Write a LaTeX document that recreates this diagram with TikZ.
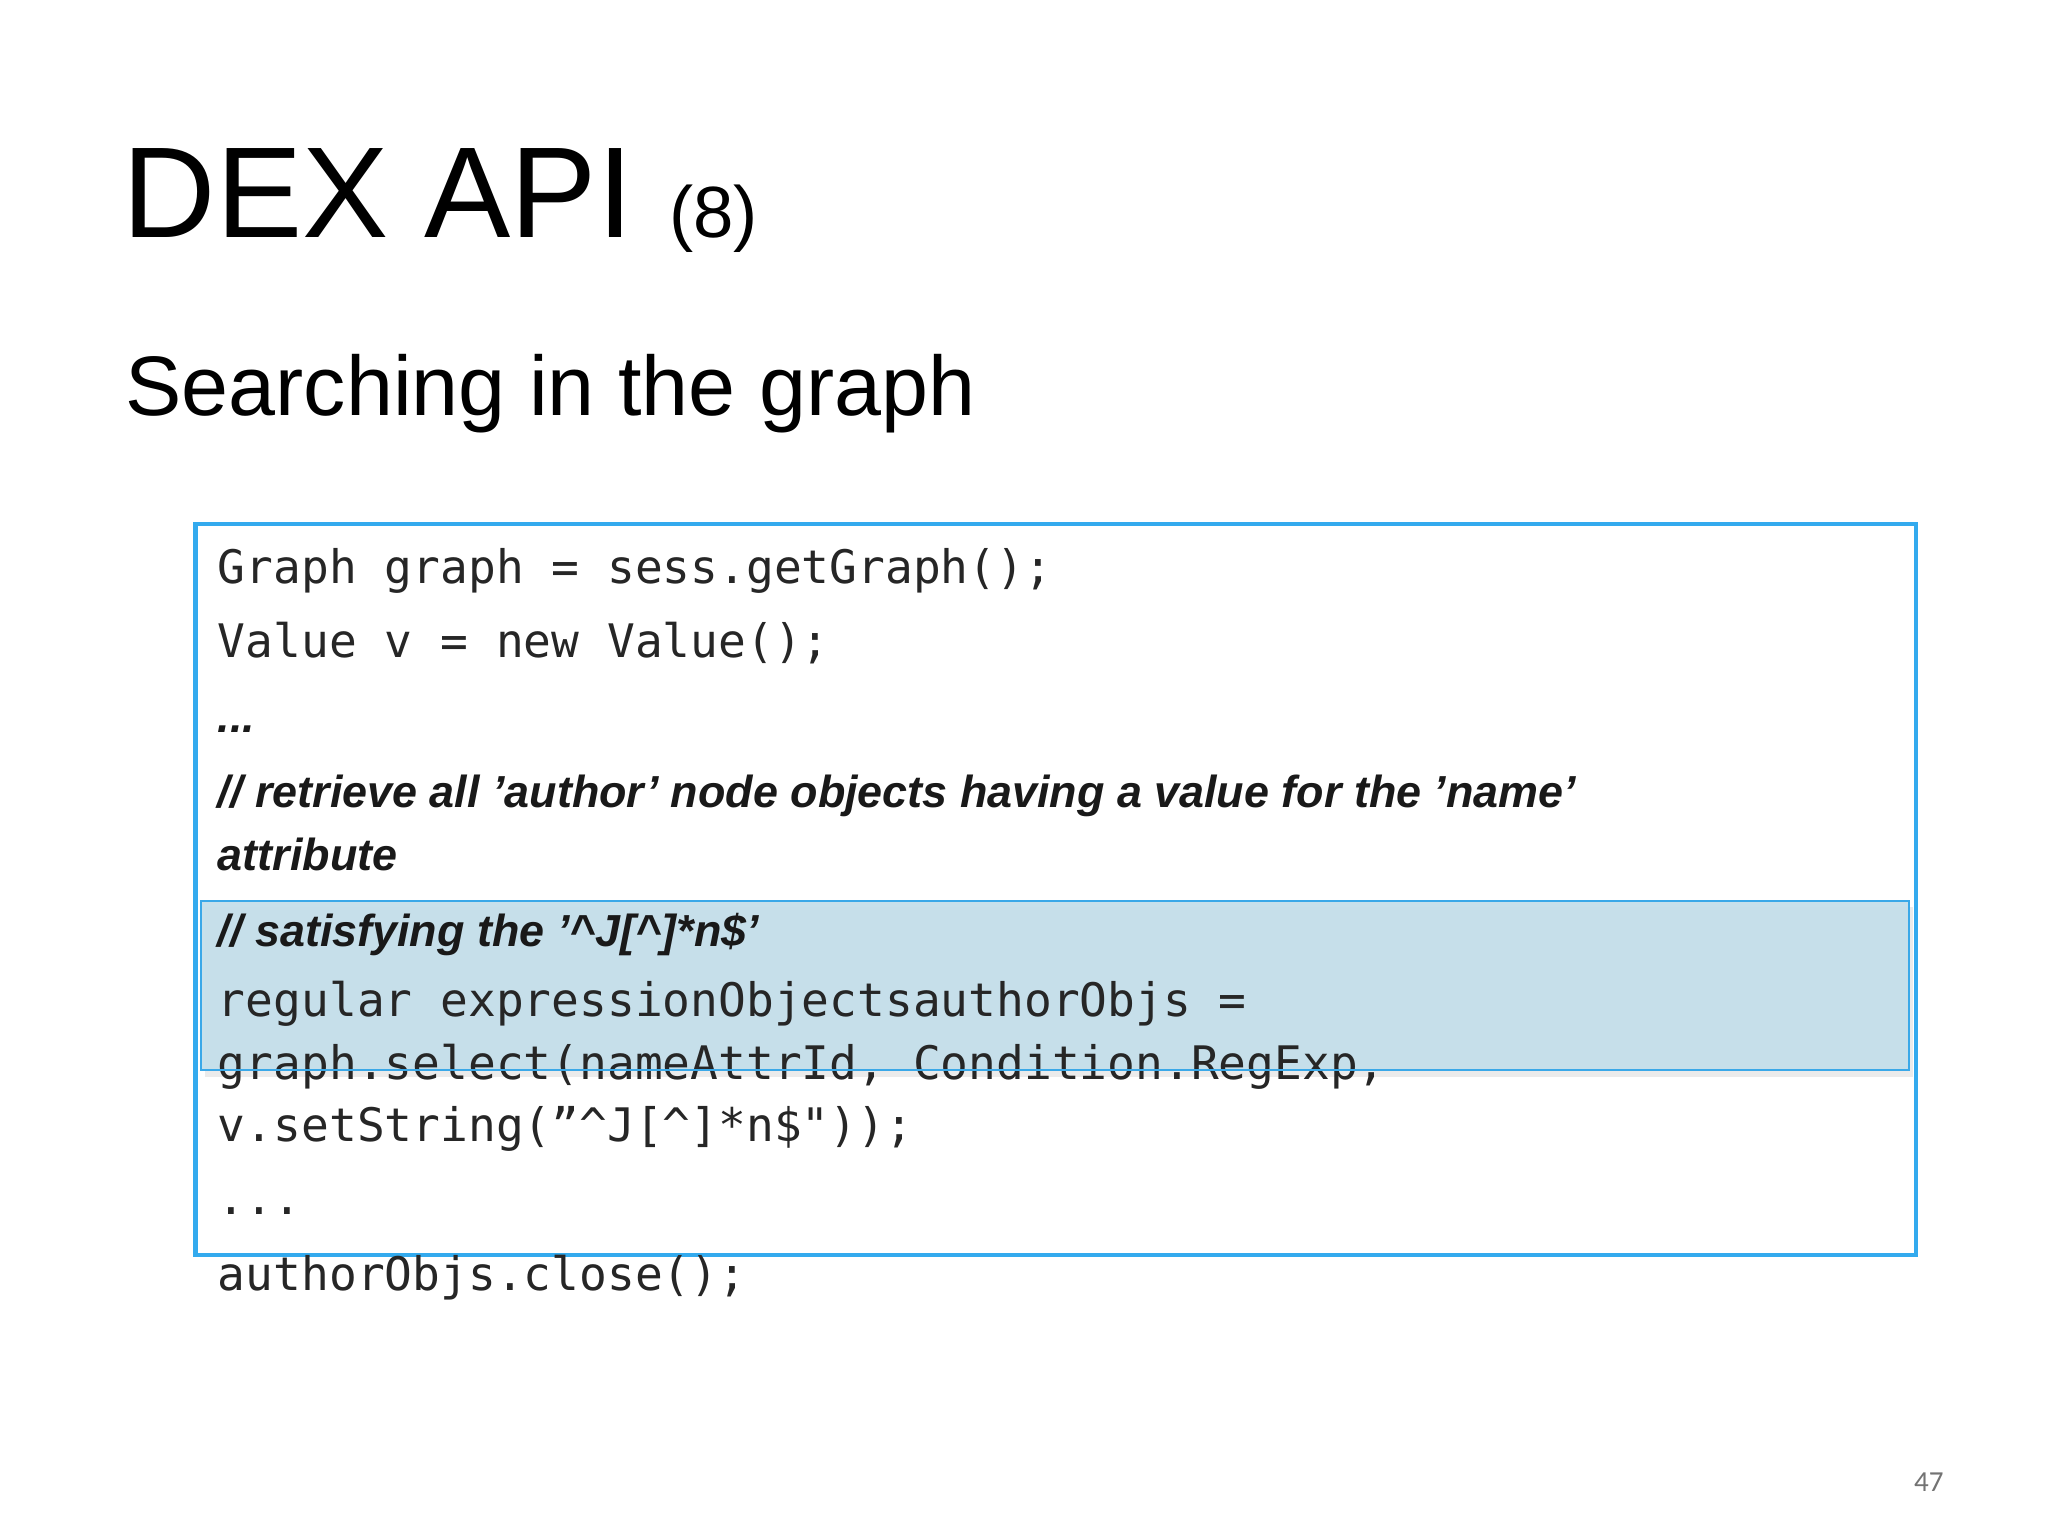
\documentclass[tikz,border=0pt]{standalone}
\usepackage{fontspec}
\setmainfont{Liberation Sans}
\newfontfamily\codefont{DejaVu Sans Mono}
\newfontfamily\numfont{Carlito}
\definecolor{boxblue}{RGB}{51,170,238}
\definecolor{hlfill}{RGB}{197,223,234}
\definecolor{hlline}{RGB}{58,168,232}
\begin{document}
\begin{tikzpicture}[x=1pt,y=-1pt,
  code/.style={anchor=base west,inner sep=0pt,font=\codefont\fontsize{35}{40}\selectfont,text=black!85},
  cmt/.style={anchor=base west,inner sep=0pt,font=\bfseries\itshape\fontsize{34}{40}\selectfont,text=black!90}]
\useasboundingbox (0,0) rectangle (1552,1164);
\fill[white] (0,0) rectangle (1552,1164);
\node[anchor=base west,inner sep=0pt,font=\fontsize{98}{100}\selectfont] (title) at (93,180) {DEX API \fontsize{55}{60}\selectfont(8)};
\node[anchor=base west,inner sep=0pt,font=\fontsize{64}{70}\selectfont] (sub) at (95,315) {Searching in the graph};
\draw[line width=3.5pt,draw=boxblue] (148,397) rectangle (1452,951);
\fill[black!15,opacity=0.5] (155,687) rectangle (1450,816);
\fill[hlfill,opacity=0.95] (152,683) rectangle (1447,811);
\node[code] (l1) at (165,442) {Graph graph = sess.getGraph();};
\node[code] (l2) at (165,498) {Value v = new Value();};
\node[cmt] (l3) at (165,555) {...};
\node[cmt] (l4) at (165,612) {// retrieve all ’author' node objects having a value for the 'name'};
\node[cmt] (l5) at (165,660) {attribute};
\node[cmt] (l6) at (165,717) {// satisfying the ’\^{}J[\^{}]*n\$'};
\node[code] (l7) at (165,770) {regular expressionObjectsauthorObjs =};
\node[code] (l8) at (165,818) {graph.select(nameAttrId, Condition.RegExp,};
\node[code] (l9) at (165,865) {v.setString(”\^{}J[\^{}]*n\$"));};
\node[code] (l10) at (165,920) {...};
\node[code] (l11) at (165,978) {authorObjs.close();};
\draw[line width=1.5pt,draw=hlline] (152,683) rectangle (1447,811);
\node[anchor=base east,inner sep=0pt,font=\numfont\fontsize{22}{24}\selectfont,text=black!55] (pg) at (1473,1130) {47};
\end{tikzpicture}
\end{document}
